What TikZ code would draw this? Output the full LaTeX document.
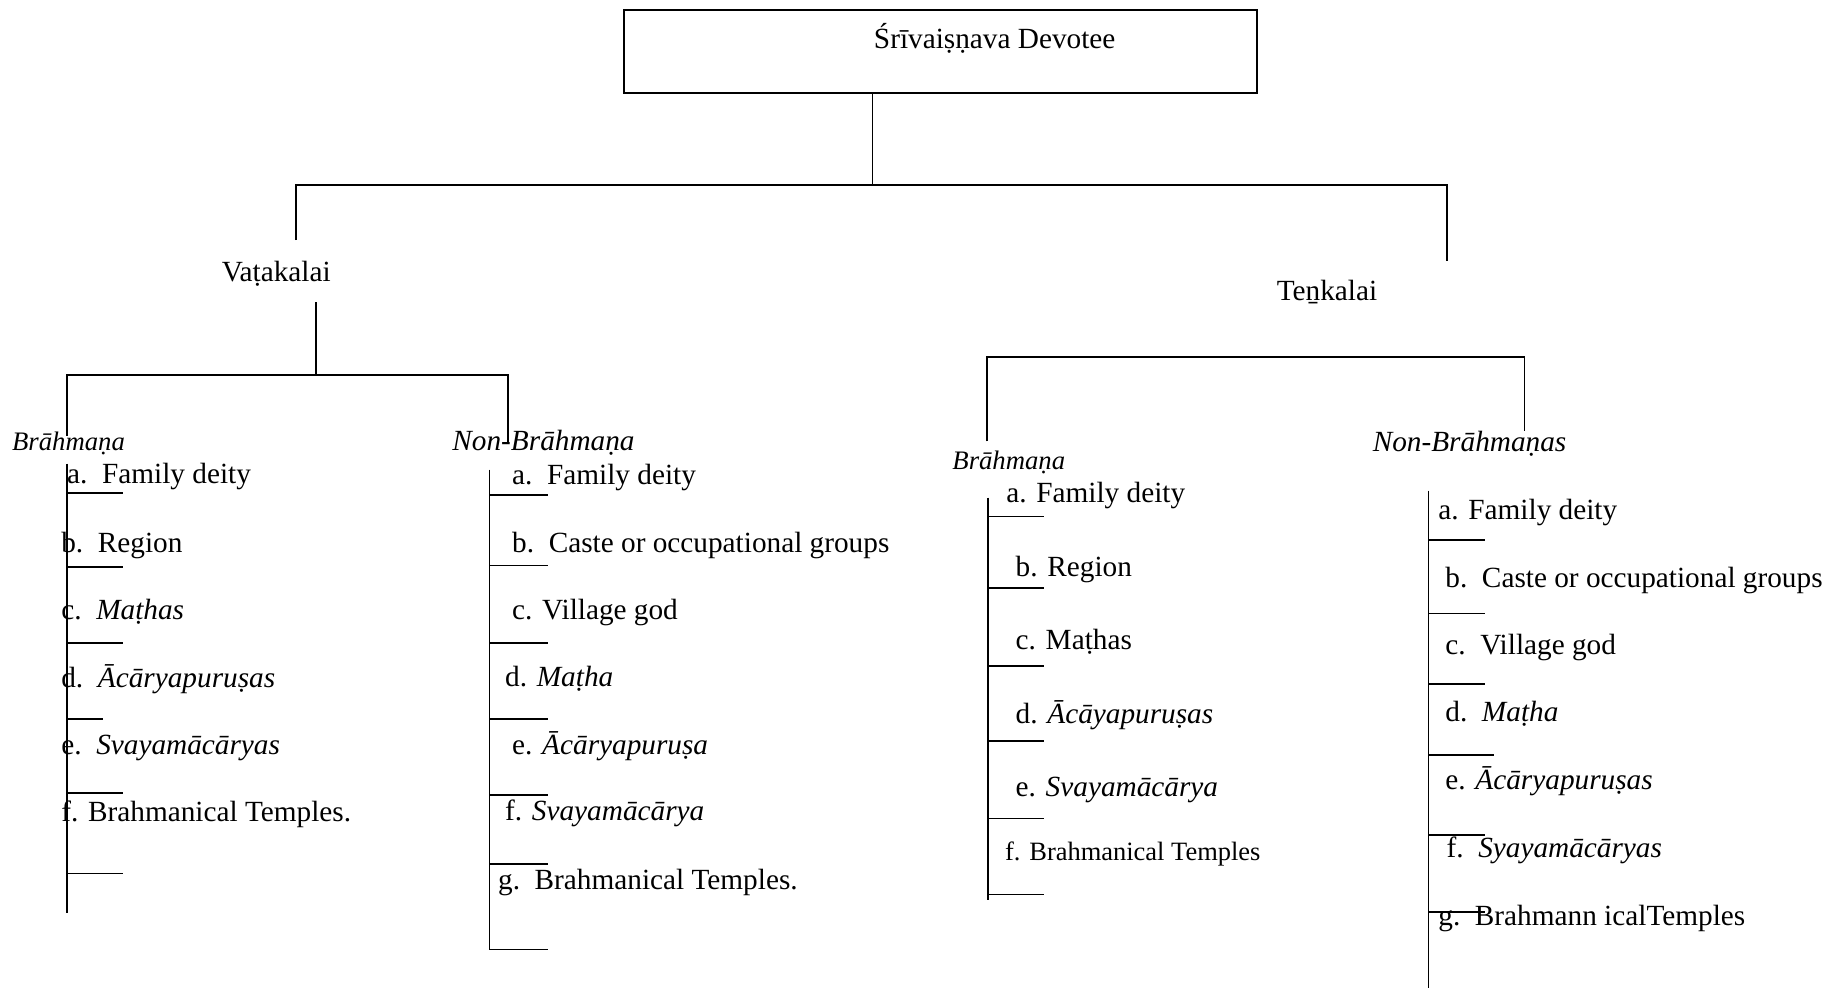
\documentclass[tikz,border=0pt]{standalone}
\usepackage{fontspec}
\setmainfont{Liberation Serif}
\begin{document}
\begin{tikzpicture}[x=0.5pt,y=-0.5pt,
  wire/.style={line width=0.7pt, black},
  txt/.style={anchor=base west, inner sep=0pt, font=\fontsize{12.5}{14}\selectfont},
  small/.style={anchor=base west, inner sep=0pt, font=\fontsize{11.3}{13}\selectfont},
  head/.style={anchor=base west, inner sep=0pt, font=\fontsize{12.5}{14}\selectfont\itshape},
  smallhead/.style={anchor=base west, inner sep=0pt, font=\fontsize{11.4}{13}\selectfont\itshape}]
\useasboundingbox (0,0) rectangle (1568,844);

% root box
\node[draw, line width=0.7pt, minimum width=270.5pt, minimum height=35.5pt, inner sep=0pt,
      anchor=north west] (root) at (532,8) {};
\node[txt] (rootlabel) at (746,41) {Śrīvaiṣṇava Devotee};

% first split
\coordinate (j0) at (745,158);
\coordinate (vatEnd) at (253,205);
\coordinate (tenEnd) at (1236,223);
\draw[wire] (root.south -| j0) -- (j0);
\draw[wire] (vatEnd) |- (j0) -| (tenEnd);

% Vatakalai branch
\node[txt] (vat) at (189,240) {Vaṭakalai};
\coordinate (vtop) at (270,258);
\coordinate (vj) at (270,320);
\coordinate (vbEnd) at (57,372);
\coordinate (vnEnd) at (434,378);
\draw[wire] (vtop) -- (vj);
\draw[wire] (vbEnd) |- (vj) -| (vnEnd);
\node[smallhead] (vbh) at (10,385) {Brāhmaṇa};
\node[head] (vnh) at (386,385) {Non-Brāhmaṇa};

% Tenkalai branch
\node[txt] (ten) at (1090,257) {Teṉkalai};
\coordinate (tjL) at (843,305);
\coordinate (tjR) at (1302,305);
\coordinate (tbEnd) at (843,377);
\coordinate (tnEnd) at (1302,368);
\draw[wire] (tbEnd) -- (tjL) -- (tjR) -- (tnEnd);
\node[smallhead] (tbh) at (813,401) {Brāhmaṇa};
\node[head] (tnh) at (1172,386) {Non-Brāhmaṇas};

% Vatakalai, Brahmana list
\coordinate (vbTop) at (57,396);
\coordinate (vbBot) at (57,780);
\draw[wire] (vbTop) -- (vbBot);
\foreach \yy in {421,484,549,677,746} \draw[wire] (57,\yy) -- ++(48,0);
\draw[wire] (57,614) -- ++(31,0);
\node[txt] (vb1) at (57,413) {a.\enspace Family deity};
\node[txt] (vb2) at (52,472) {b.\enspace Region};
\node[txt] (vb3) at (52,529) {c.\enspace \textit{Maṭhas}};
\node[txt] (vb4) at (52,587) {d.\enspace \textit{Ācāryapuruṣas}};
\node[txt] (vb5) at (52,644) {e.\enspace \textit{Svayamācāryas}};
\node[txt] (vb6) at (52,702) {f. Brahmanical Temples.};

% Vatakalai, Non-Brahmana list
\coordinate (vnTop) at (418,401);
\coordinate (vnBot) at (418,811);
\draw[wire] (vnTop) -- (vnBot);
\foreach \yy in {423,483,549,614,679,738,811} \draw[wire] (418,\yy) -- ++(50,0);
\node[txt] (vn1) at (437,414) {a.\enspace Family deity};
\node[txt] (vn2) at (437,472) {b.\enspace Caste or occupational groups};
\node[txt] (vn3) at (437,529) {c. Village god};
\node[txt] (vn4) at (431,586) {d. \textit{Maṭha}};
\node[txt] (vn5) at (437,644) {e. \textit{Ācāryapuruṣa}};
\node[txt] (vn6) at (431,701) {f. \textit{Svayamācārya}};
\node[txt] (vn7) at (425,760) {g.\enspace Brahmanical Temples.};

% Tenkalai, Brahmana list
\coordinate (tbTop) at (844,425);
\coordinate (tbBot) at (844,769);
\draw[wire] (tbTop) -- (tbBot);
\foreach \yy in {441,502,569,633,699,764} \draw[wire] (844,\yy) -- ++(48,0);
\node[txt] (tb1) at (859,429) {a. Family deity};
\node[txt] (tb2) at (867,492) {b. Region};
\node[txt] (tb3) at (867,555) {c. Maṭhas};
\node[txt] (tb4) at (867,618) {d. \textit{Ācāyapuruṣas}};
\node[txt] (tb5) at (867,680) {e. \textit{Svayamācārya}};
\node[small] (tb6) at (858,735) {f. Brahmanical Temples};

% Tenkalai, Non-Brahmana list
\coordinate (tnTop) at (1220,419);
\coordinate (tnBot) at (1220,844);
\draw[wire] (tnTop) -- (tnBot);
\foreach \yy in {461,524,584,713,779} \draw[wire] (1220,\yy) -- ++(48,0);
\draw[wire] (1220,645) -- ++(56,0);
\node[txt] (tn1) at (1228,444) {a. Family deity};
\node[txt] (tn2) at (1234,502) {b.\enspace Caste or occupational groups};
\node[txt] (tn3) at (1234,559) {c.\enspace Village god};
\node[txt] (tn4) at (1234,616) {d.\enspace \textit{Maṭha}};
\node[txt] (tn5) at (1234,674) {e. \textit{Ācāryapuruṣas}};
\node[txt] (tn6) at (1235,732) {f.\enspace \textit{Syayamācāryas}};
\node[txt] (tn7) at (1228,790) {g.\enspace Brahmann icalTemples};
\end{tikzpicture}
\end{document}
